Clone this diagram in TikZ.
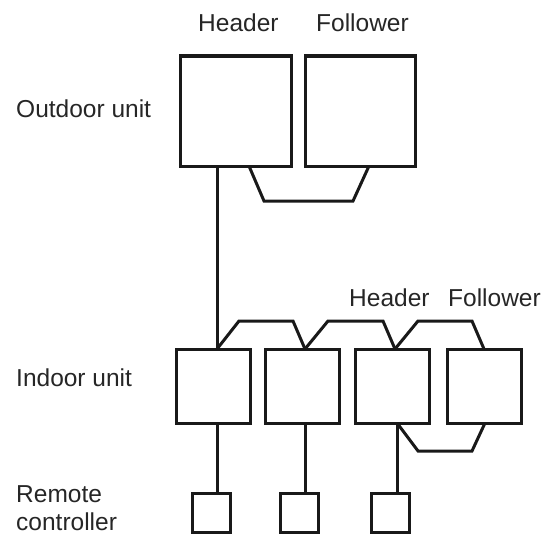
\documentclass[tikz,border=0pt]{standalone}
\usepackage{fontspec}
\setmainfont{Liberation Sans}
\begin{document}
\begin{tikzpicture}[x=1pt,y=-1pt,
  unit/.style={draw=black!90, line width=3pt, fill=white, inner sep=0pt, outer sep=0pt},
  wire/.style={draw=black!90, line width=3pt, line join=miter},
  lbl/.style={inner sep=0pt, anchor=base west, font=\fontsize{24.5}{28}\selectfont, text=black!85}]
\useasboundingbox (0,0) rectangle (548,543);
% outdoor units
\node[unit, minimum width=111pt, minimum height=110pt] (oh) at (235.5,111) {};
\node[unit, minimum width=110pt, minimum height=110pt] (of) at (360,111) {};
% indoor units
\node[unit, minimum width=74pt, minimum height=74pt] (i1) at (213,386) {};
\node[unit, minimum width=74pt, minimum height=74pt] (i2) at (302,386) {};
\node[unit, minimum width=74pt, minimum height=74pt] (i3) at (392,386) {};
\node[unit, minimum width=74pt, minimum height=74pt] (i4) at (484,386) {};
% remote controllers
\node[unit, minimum width=38pt, minimum height=39pt] (r1) at (211,512.5) {};
\node[unit, minimum width=38pt, minimum height=39pt] (r2) at (299,512.5) {};
\node[unit, minimum width=38pt, minimum height=39pt] (r3) at (390.5,512.5) {};
% labels
\node[lbl] (tH) at (198,32) {Header};
\node[lbl] (tF) at (316,32) {Follower};
\node[lbl] (tO) at (16,117) {Outdoor unit};
\node[lbl] (tI) at (16,386) {Indoor unit};
\node[lbl] (tH2) at (349,306) {Header};
\node[lbl] (tF2) at (448,306) {Follower};
\node[lbl] (tR) at (16,502) {Remote};
\node[lbl] (tC) at (16,530) {controller};
% outdoor to indoor
\draw[wire] ([xshift=4pt]i1.north) -- ([xshift=4pt]i1.north |- oh.south);
% outdoor header-follower link
\draw[wire] ([xshift=13.5pt]oh.south) -- ++(15,35) -- ++(89,0) -- ([xshift=9pt]of.south);
% indoor top links
\draw[wire] ([xshift=4pt]i1.north) -- ++(22,-28) -- ++(54,0) -- ([xshift=3pt]i2.north);
\draw[wire] ([xshift=3pt]i2.north) -- ++(23,-28) -- ++(55,0) -- ([xshift=3pt]i3.north);
\draw[wire] ([xshift=3pt]i3.north) -- ++(23,-28) -- ++(54,0) -- (i4.north);
% indoor lower link
\draw[wire] ([xshift=5pt]i3.south) -- ++(21,28) -- ++(54,0) -- ([xshift=1pt]i4.south);
% remote controller lines
\draw[wire] ([xshift=4pt]i1.south) -- ([xshift=4pt]i1.south |- r1.north);
\draw[wire] ([xshift=3pt]i2.south) -- ([xshift=3pt]i2.south |- r2.north);
\draw[wire] ([xshift=5pt]i3.south) -- ([xshift=5pt]i3.south |- r3.north);
\end{tikzpicture}
\end{document}
